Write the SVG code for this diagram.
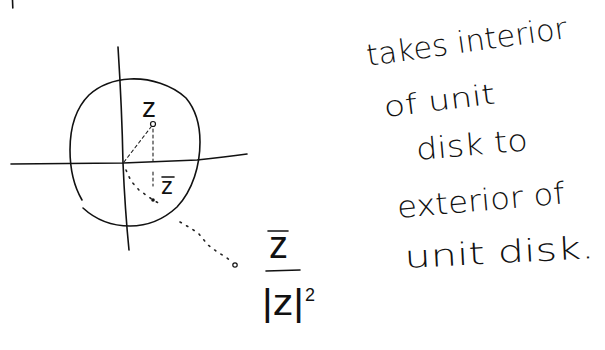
<svg xmlns="http://www.w3.org/2000/svg" width="605" height="350" viewBox="0 0 605 350">
<style>
.ink{fill:none;stroke:#111;stroke-width:1.6;stroke-linecap:round;stroke-linejoin:round}
.dash{fill:none;stroke:#222;stroke-width:1.1;stroke-dasharray:3 3;stroke-linecap:round}
.dot{fill:none;stroke:#222;stroke-width:1.6;stroke-dasharray:1.5 6;stroke-linecap:round}
.hw{font-family:"DejaVu Sans","Liberation Sans",sans-serif;fill:#111;font-weight:300}
.m{font-family:"Liberation Sans",sans-serif;fill:#111}
</style>
<rect width="605" height="350" fill="#fff"/>
<path class="ink" d="M12.5 0 L12.8 8"/>
<g id="axes">
<path class="ink" d="M118 47 Q122 110 123 163 Q125 210 129 250"/>
<path class="ink" d="M11 164 L123 163 Q170 161 197 160 Q225 157 247 154"/>
</g>
<g id="circle">
<path class="ink" d="M82 200 C75 188 70 170 70 150 C70 128 76 108 89 95 C100 85 112 80 130 79 C150 78 172 85 186 98 C196 110 200 125 200 142 C200 165 193 190 177 207 C163 220 147 226 130 226 C112 226 96 220 83 208"/>
</g>
<g id="connectors">
<path class="dash" d="M124 162 L151 127"/>
<path class="dash" d="M153 129 L153 161"/>
<path class="dash" d="M153 172 L153 186"/>
<path class="dot" d="M126 170 L131 181 L139 190 L146 195 L153 200 L162 205"/>
<path class="dot" d="M180 222 L192 229 L199 234 L208 245 L216 251 L227 258 L232 262"/>
</g>
<g id="point-z">
<circle cx="153" cy="124" r="2.5" fill="#fff" stroke="#111" stroke-width="1.2"/>
<text class="m" x="142" y="117" font-size="28">z</text>
</g>
<g id="point-zbar">
<circle cx="153" cy="200" r="1.8" fill="#111"/>
<line class="ink" x1="162" y1="177" x2="174" y2="177" stroke-width="1.3"/>
<text class="m" x="161" y="194" font-size="24">z</text>
</g>
<g id="point-inverse">
<circle cx="235" cy="265" r="2.2" fill="#fff" stroke="#111" stroke-width="1.2"/>
<line class="ink" x1="268" y1="231" x2="288" y2="231" stroke-width="1.3"/>
<text class="m" x="269" y="258" font-size="38">z</text>
<line class="ink" x1="266" y1="271" x2="300" y2="270"/>
<text class="m" x="262" y="315" font-size="37" textLength="42" lengthAdjust="spacingAndGlyphs">|z|</text>
<text class="m" x="305" y="301" font-size="18">2</text>
</g>
<g id="caption">
<text class="hw" font-size="30" x="368" y="66" transform="rotate(-8 368 66)" textLength="202" lengthAdjust="spacingAndGlyphs">takes interior</text>
<text class="hw" font-size="28" x="385" y="117" transform="rotate(-7 385 117)" textLength="112" lengthAdjust="spacingAndGlyphs">of unit</text>
<text class="hw" font-size="30" x="417" y="160" transform="rotate(-5 417 160)" textLength="112" lengthAdjust="spacingAndGlyphs">disk to</text>
<text class="hw" font-size="30" x="398" y="218" transform="rotate(-5 398 218)" textLength="168" lengthAdjust="spacingAndGlyphs">exterior of</text>
<text class="hw" font-size="31" x="405" y="268" transform="rotate(-3 405 268)" textLength="190" lengthAdjust="spacingAndGlyphs">unit disk.</text>
</g>
</svg>
